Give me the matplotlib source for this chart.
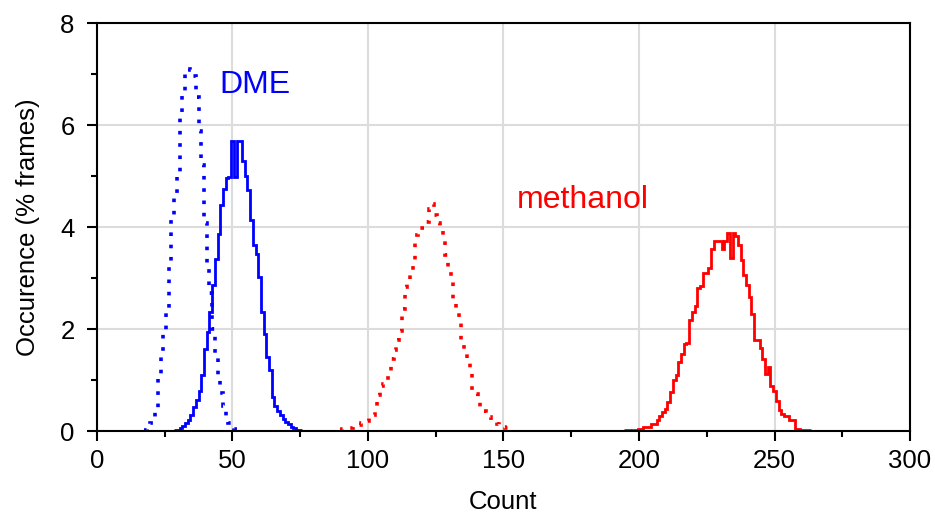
import numpy as np
import matplotlib
matplotlib.use("Agg")
import matplotlib.pyplot as plt

plt.rcParams['font.family'] = ['Liberation Sans', 'DejaVu Sans']

# histogram heights (% frames), one bin per integer count
dme_gas_start = 18
dme_gas = [0.02, 0.05, 0.15, 0.25, 0.44, 1.07, 1.49, 1.92, 2.36, 3.26,
           4.14, 4.58, 5.02, 6.14, 6.56, 7.02, 7.10, 7.08, 6.96, 6.54,
           5.88, 5.22, 4.08, 3.30, 2.70, 2.00, 1.50, 1.05, 0.75, 0.50,
           0.30, 0.15, 0.06, 0.03, 0.01]

dme_liq_start = 29
dme_liq = [0.01, 0.02, 0.05, 0.09, 0.15, 0.22, 0.31, 0.47, 0.60, 0.78,
           1.10, 1.61, 1.94, 2.33, 2.86, 3.38, 3.87, 4.43, 4.75, 4.97,
           4.99, 5.68, 4.99, 5.68, 5.68, 5.29, 5.00, 4.72, 4.13, 3.64,
           3.48, 3.02, 2.33, 1.90, 1.45, 1.19, 0.67, 0.50, 0.40, 0.31,
           0.24, 0.18, 0.14, 0.08, 0.05, 0.02, 0.01]

meoh_gas_start = 90
meoh_gas = [0.02, 0.03, 0.03, 0.04, 0.05, 0.07, 0.09, 0.12, 0.15, 0.18,
            0.20, 0.25, 0.31, 0.49, 0.70, 0.88, 0.92, 0.99, 1.18, 1.41,
            1.59, 1.79, 1.97, 2.40, 2.82, 2.95, 3.14, 3.32, 3.85, 3.98,
            3.98, 4.10, 4.10, 4.35, 4.46, 4.23, 4.07, 3.95, 3.77, 3.45,
            3.16, 2.97, 2.56, 2.37, 2.20, 1.76, 1.58, 1.35, 1.20, 0.80,
            0.72, 0.65, 0.46, 0.40, 0.33, 0.27, 0.22, 0.17, 0.13, 0.10,
            0.08, 0.06, 0.04, 0.02]

meoh_liq_start = 195
meoh_liq = [0.01, 0.01, 0.00, 0.02, 0.02, 0.03, 0.03, 0.08, 0.08, 0.08,
            0.13, 0.13, 0.21, 0.30, 0.38, 0.44, 0.57, 0.77, 1.00, 1.10,
            1.35, 1.51, 1.70, 1.72, 2.18, 2.33, 2.45, 2.80, 2.85, 3.10,
            3.10, 3.20, 3.56, 3.72, 3.72, 3.72, 3.56, 3.72, 3.88, 3.40,
            3.88, 3.83, 3.64, 3.35, 3.05, 2.86, 2.63, 2.30, 1.79, 1.79,
            1.62, 1.42, 1.12, 1.25, 0.89, 0.79, 0.59, 0.42, 0.33, 0.30,
            0.29, 0.22, 0.22, 0.04, 0.04, 0.01, 0.01, 0.02, 0.01]

dotted = (0, (1, 2.4))


def edges(start, vals):
    return np.arange(start, start + len(vals) + 1) - 0.5


fig = plt.figure(figsize=(9.35, 5.12), dpi=100)
ax = fig.add_axes([0.1037, 0.1582, 0.8696, 0.7968])

ax.stairs(dme_gas, edges(dme_gas_start, dme_gas), color='blue', lw=2.6, linestyle=dotted, baseline=None)
ax.stairs(dme_liq, edges(dme_liq_start, dme_liq), color='blue', lw=2.0, baseline=None)
ax.stairs(meoh_gas, edges(meoh_gas_start, meoh_gas), color='red', lw=2.6, linestyle=dotted, baseline=None)
ax.stairs(meoh_liq, edges(meoh_liq_start, meoh_liq), color='red', lw=2.0, baseline=None)

ax.text(45.3, 6.78, 'DME', color='blue', fontsize=23, va='center', ha='left')
ax.text(155, 4.53, 'methanol', color='red', fontsize=23, va='center', ha='left')

ax.set_xlim(0, 300)
ax.set_ylim(0, 8)
ax.set_xticks(np.arange(0, 301, 50))
ax.set_xticks(np.arange(25, 300, 50), minor=True)
ax.set_yticks(np.arange(0, 9, 2))
ax.set_yticks(np.arange(1, 8, 2), minor=True)
ax.grid(True, which='major', color='#dcdcdc', lw=1.5)
ax.set_axisbelow(True)

for s in ax.spines.values():
    s.set_linewidth(1.5)
ax.tick_params(which='major', direction='out', length=7, width=1.5, labelsize=18.5)
ax.tick_params(axis='x', which='major', pad=6)
ax.tick_params(axis='y', which='major', pad=9)
ax.tick_params(which='minor', direction='out', length=4, width=1.5)

ax.set_xlabel('Count', fontsize=18.5, labelpad=12)
ax.set_ylabel('Occurence (% frames)', fontsize=18.5, labelpad=15)

fig.savefig('out.png', dpi=100)
